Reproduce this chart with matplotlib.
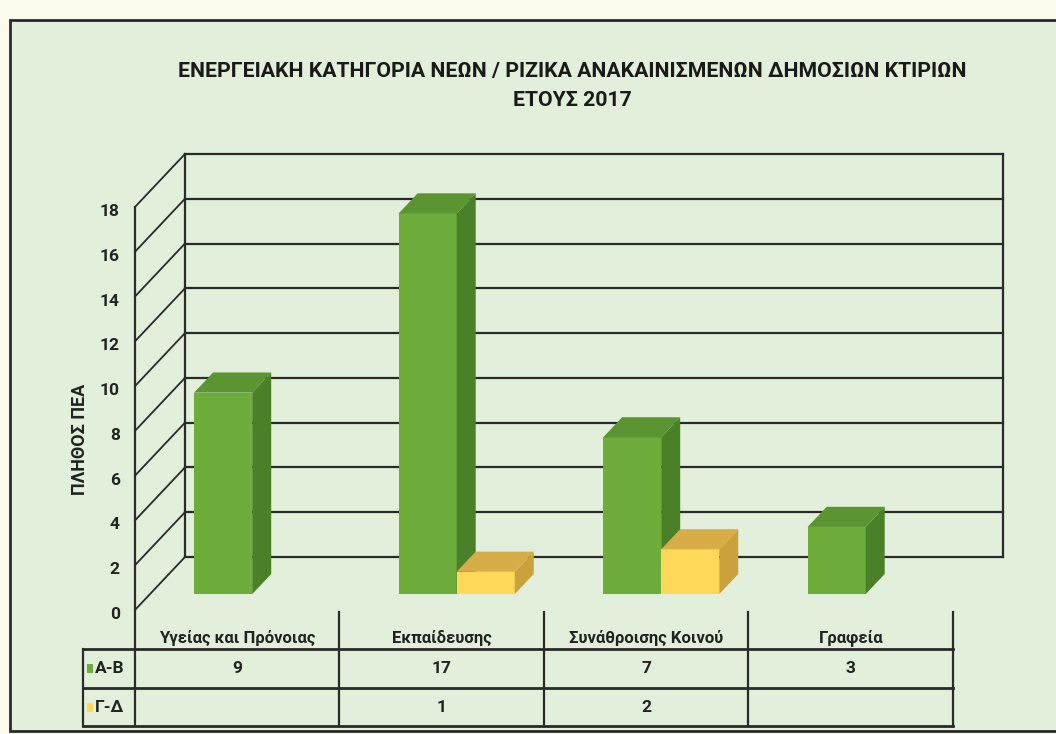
import matplotlib.pyplot as plt
from matplotlib.patches import Polygon, Rectangle

categories = ['Υγείας και Πρόνοιας', 'Εκπαίδευσης', 'Συνάθροισης Κοινού', 'Γραφεία']
series_names = ['Α-Β', 'Γ-Δ']
values_ab = [9, 17, 7, 3]
values_gd = [0, 1, 2, 0]
yticks = [0, 2, 4, 6, 8, 10, 12, 14, 16, 18]
title = 'ΕΝΕΡΓΕΙΑΚΗ ΚΑΤΗΓΟΡΙΑ ΝΕΩΝ / ΡΙΖΙΚΑ ΑΝΑΚΑΙΝΙΣΜΕΝΩΝ ΔΗΜΟΣΙΩΝ ΚΤΙΡΙΩΝ\nΕΤΟΥΣ 2017'
ylabel = 'ΠΛΗΘΟΣ ΠΕΑ'

plt.rcParams['font.family'] = ['Roboto', 'DejaVu Sans']

BG = '#e2efda'
LINE = '#2a2a2a'
TXT = '#222222'
face_cols = [('#6cad3c', '#4a8027', '#5a9531'), ('#ffd85a', '#c9a23e', '#d8ad48')]

# depth offsets of the fake 3d box (category units, value units)
DX, DY = 0.2445, 2.367
Z0, Z1 = 0.30, 0.68
W = 0.284
YMAX = 18


def proj(x, v, z):
    return (x + z * DX, v + z * DY)


fig = plt.figure(figsize=(10.56, 7.34), dpi=100, facecolor='#fbfaec')
ax = fig.add_axes([0, 0, 1, 1])
ax.set_xlim(-1.160, 4.004)
ax.set_ylim(-5.538, 27.245)
ax.axis('off')

# chart area with frame
ax.add_patch(Rectangle((10 / 1056, 3 / 734), 1.1, 711 / 734, transform=fig.transFigure,
                       facecolor=BG, edgecolor=LINE, lw=2.0, zorder=0))

n = len(categories)
xl, xr = -0.5, n - 0.5

# back wall and gridlines
for t in yticks:
    ax.plot(*zip(proj(xl, t, 1), proj(xr, t, 1)), color=LINE, lw=1.6, zorder=1)
    ax.plot(*zip(proj(xl, t, 0), proj(xl, t, 1)), color=LINE, lw=1.3, zorder=1)
ax.plot(*zip(proj(xl, 0, 1), proj(xl, YMAX, 1)), color=LINE, lw=1.6, zorder=1)
ax.plot(*zip(proj(xr, 0, 1), proj(xr, YMAX, 1)), color=LINE, lw=1.6, zorder=1)
ax.plot([xl, xl], [-5.18, YMAX], color=LINE, lw=1.6, zorder=1)

for t in yticks:
    ax.text(xl - 0.075, t - 0.2, str(t), ha='right', va='center', fontsize=12.5,
            fontweight='bold', color=TXT)
ax.text(-0.77, 7.6, ylabel, rotation=90, ha='center', va='center', fontsize=13,
        fontweight='bold', color=TXT)


def bar3d(x0, h, cols):
    x1 = x0 + W
    front, side, top = cols
    ax.add_patch(Polygon([proj(x0, 0, Z0), proj(x1, 0, Z0), proj(x1, h, Z0), proj(x0, h, Z0)],
                         closed=True, facecolor=front, edgecolor='none', zorder=3))
    ax.add_patch(Polygon([proj(x1, 0, Z0), proj(x1, 0, Z1), proj(x1, h, Z1), proj(x1, h, Z0)],
                         closed=True, facecolor=side, edgecolor='none', zorder=3))
    ax.add_patch(Polygon([proj(x0, h, Z0), proj(x1, h, Z0), proj(x1, h, Z1), proj(x0, h, Z1)],
                         closed=True, facecolor=top, edgecolor='none', zorder=3))


for i in range(n):
    if values_ab[i]:
        bar3d(i - W, values_ab[i], face_cols[0])
    if values_gd[i]:
        bar3d(i, values_gd[i], face_cols[1])

# data table
rows = [values_ab, values_gd]
row_tops = [-1.74, -3.48]
row_bot = -5.18
leg_l = -0.754
for x in [i + 0.5 for i in range(n)]:
    ax.plot([x, x], [-0.09, row_bot], color=LINE, lw=1.6, zorder=2)
for yy in row_tops + [row_bot]:
    ax.plot([leg_l, xr], [yy, yy], color=LINE, lw=2.0, zorder=2)
ax.plot([leg_l, leg_l], [row_tops[0], row_bot], color=LINE, lw=1.6, zorder=2)

for i, c in enumerate(categories):
    ax.text(i, -1.25, c, ha='center', va='center', fontsize=12, fontweight='bold', color=TXT)

for r, (name, vals) in enumerate(zip(series_names, rows)):
    yc = row_tops[r] - 0.87
    ax.add_patch(Rectangle((leg_l + 0.02, yc - 0.2), 0.028, 0.4, facecolor=face_cols[r][0],
                           edgecolor='none', zorder=3))
    ax.text(leg_l + 0.06, yc, name, ha='left', va='center', fontsize=12.5, fontweight='bold',
            color=TXT)
    for i, v in enumerate(vals):
        if v:
            ax.text(i, yc, str(v), ha='center', va='center', fontsize=12.5, fontweight='bold',
                    color=TXT)

fig.text(572 / 1056, 1 - 86 / 734, title, ha='center', va='center', fontsize=15.3,
         fontweight='bold', color='#1a1a1a', linespacing=1.6)

fig.savefig('out.png', dpi=100, facecolor=fig.get_facecolor())
